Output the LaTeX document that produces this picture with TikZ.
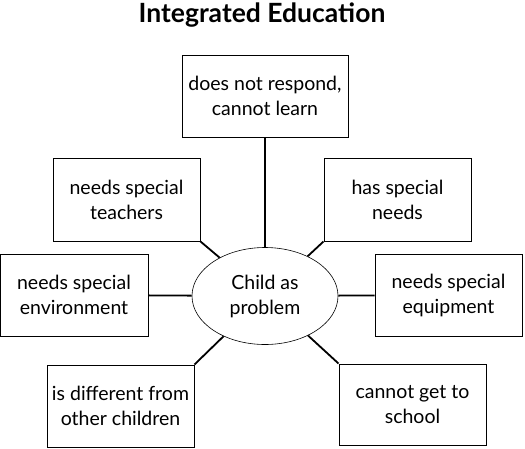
\documentclass[tikz,border=0pt]{standalone}
\usepackage{fontspec}
\setmainfont{Lato}
\usepackage{tikz}
\usetikzlibrary{shapes.geometric, positioning}
\tikzstyle{problem} = [ellipse, minimum width=146pt, minimum height=97pt, text centered, align=center, draw=black, line width=0.6pt, inner sep=0pt]
\tikzstyle{cause} = [rectangle, minimum width=147pt, minimum height=82pt, text centered, align=center, draw=black, line width=1pt, inner sep=0pt]
\tikzstyle{link} = [line width=1.8pt]

\begin{document}
\begin{tikzpicture}[x=1pt, y=-1pt, font=\fontsize{19.5}{25}\selectfont]
        \useasboundingbox (0,0) rectangle (525,448);
        \node (title) at (262,15) {\fontsize{26.5}{30}\selectfont\bfseries Integrated Education};
        \node (child) [problem] at (265,296) {Child as\\problem};
        \node (learn) [cause, minimum width=166pt] at (265,96) {does not respond,\\cannot learn};
        \node (teachers) [cause, minimum height=83pt] at (126.5,199.5) {needs special\\teachers};
        \node (needs) [cause, minimum height=83pt] at (397.5,199.5) {has special\\needs};
        \node (environment) [cause, minimum width=148pt] at (74,295) {needs special\\environment};
        \node (equipment) [cause] at (448.5,295) {needs special\\equipment};
        \node (different) [cause] at (120.5,406) {is different from\\other children};
        \node (school) [cause, minimum height=81pt] at (412.5,404.5) {cannot get to\\school};

        \draw [link] (learn) -- (child);
        \draw [link] (teachers.south east) -- (child);
        \draw [link] (needs.south west) -- (child);
        \draw [link] (environment) -- (child);
        \draw [link] (equipment) -- (child);
        \draw [link] (different.north east) -- (child);
        \draw [link] (school.north west) -- (child);
    \end{tikzpicture}
\end{document}
